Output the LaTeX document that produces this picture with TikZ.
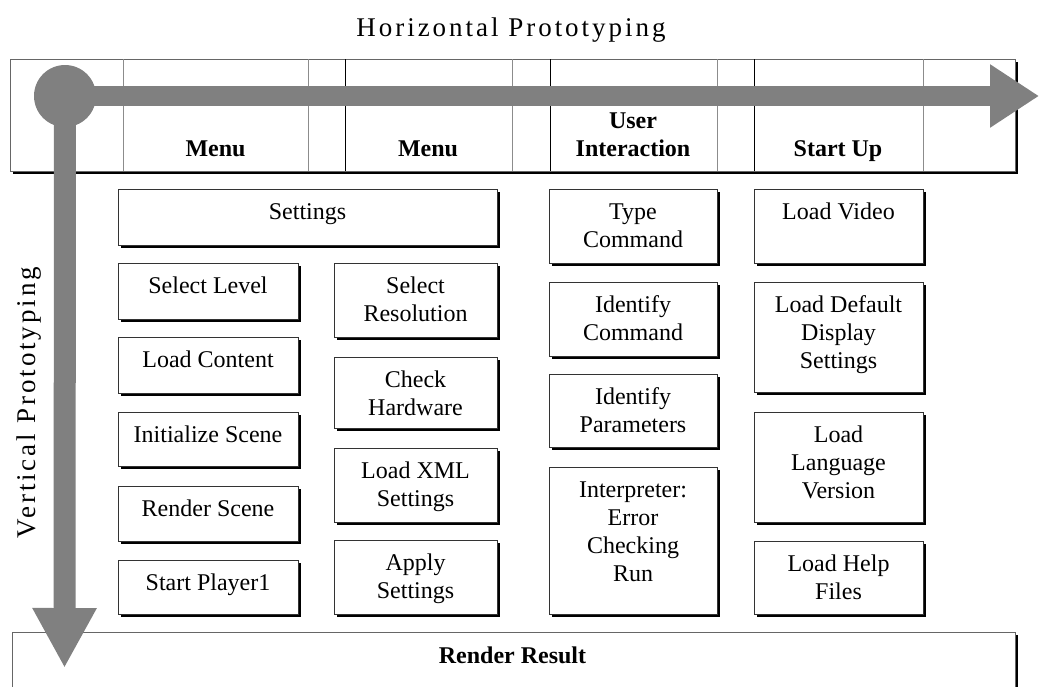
\documentclass[tikz,border=0pt]{standalone}
\usepackage{fontspec}
\setmainfont{Liberation Serif}
\newfontfamily\spacedfont[LetterSpace=11]{Liberation Serif}
\usetikzlibrary{arrows.meta,fit,shadows}

\definecolor{arrowgray}{HTML}{808080}

\tikzset{
  px/.style={x=0.75pt,y=-0.75pt},
  box/.style={draw=black!80, line width=0.6pt, fill=white, inner sep=0pt,
    drop shadow={shadow xshift=2.6pt, shadow yshift=-2.6pt, fill=black, opacity=1}},
  lbl/.style={font=\fontsize{18pt}{21pt}\selectfont, align=center, inner sep=0pt, anchor=north},
  head/.style={font=\fontsize{18pt}{21pt}\selectfont\bfseries, align=center, inner sep=0pt, anchor=base},
  axislbl/.style={font=\fontsize{20.25pt}{24pt}\selectfont\spacedfont, inner sep=0pt, anchor=base},
  divgray/.style={draw=black!45, line width=0.6pt},
  divdark/.style={draw=black, line width=0.6pt},
  bigarrow/.style={draw=arrowgray, fill=arrowgray},
}

% a process box with its text set from the top edge;
% the strut fixes the first baseline 15pt below the text's top
\newcommand\procbox[6]{%
  \node[box, fit={(#2,#3) (#4,#5)}] (#1) {};
  \node[lbl] (#1-t) at ([yshift=-7.9pt]#1.north) {\rule{0pt}{15pt}#6};
}

\begin{document}
\begin{tikzpicture}[px]
\useasboundingbox (0,0) rectangle (1039,686);
\clip (0,0) rectangle (1039,686);

% axis titles
\node[axislbl] (htitle) at (511,36) {Horizontal Prototyping};
\node[axislbl, rotate=90] (vtitle) at (35,402.5) {Vertical Prototyping};

% header row of the table
\node[box, draw=black!60, fit={(10,59) (1015,171)}] (header) {};
\foreach \xx in {123,308,512,717,923}
  \draw[divgray] (\xx,59) -- (\xx,171);
\foreach \xx in {345,550,754}
  \draw[divdark] (\xx,59) -- (\xx,171);
\node[head] (menuA) at (215.5,156) {Menu};
\node[head] (menuB) at (428,156) {Menu};
\node[head] (userint) at (633,156) {User\\Interaction};
\node[head] (startup) at (838,156) {Start Up};

% first menu column
\procbox{settings}{118}{189}{497}{245}{Settings}
\procbox{sellev}{118}{263}{298}{319}{Select Level}
\procbox{loadcont}{118}{337}{298}{393}{Load Content}
\procbox{initsc}{118}{412}{298}{466}{Initialize Scene}
\procbox{rendsc}{118}{486}{298}{541}{Render Scene}
\procbox{startp}{118}{560}{298}{614}{Start Player1}

% second menu column
\procbox{selres}{334}{263}{497}{337}{Select\\Resolution}
\procbox{chkhw}{334}{357}{497}{428}{Check\\Hardware}
\procbox{loadxml}{334}{448}{497}{522}{Load XML\\Settings}
\procbox{applyset}{334}{540}{497}{614}{Apply\\Settings}

% user interaction column
\procbox{typecmd}{549}{189}{717}{263}{Type\\Command}
\procbox{idcmd}{549}{282}{717}{356}{Identify\\Command}
\procbox{idpar}{549}{374}{717}{447}{Identify\\Parameters}
\procbox{interp}{549}{467}{717}{614}{Interpreter:\\Error\\Checking\\Run}

% start up column
\procbox{loadvid}{754}{189}{923}{263}{Load Video}
\procbox{loaddef}{754}{282}{923}{392}{Load Default\\Display\\Settings}
\procbox{loadlang}{754}{412}{923}{522}{Load\\Language\\Version}
\procbox{loadhelp}{754}{541}{923}{614}{Load Help\\Files}

% bottom row
\node[box, draw=black!60, fit={(12,632) (1015,720)}] (render) {};
\node[head] (render-t) at (512.5,663) {Render Result};

% prototyping axes
\coordinate (origin) at (65,96);
\coordinate (hend) at (1039,96);
\coordinate (vend) at (64.5,668);
\draw[bigarrow, line width=15pt, -{Triangle[length=36.75pt, width=45pt]}] (origin) -- (hend);
\draw[bigarrow, line width=16.5pt, -{Triangle[length=45pt, width=45pt]}] (origin) -- (vend);
\fill[arrowgray] (origin) circle[radius=23.25pt];
\end{tikzpicture}
\end{document}
